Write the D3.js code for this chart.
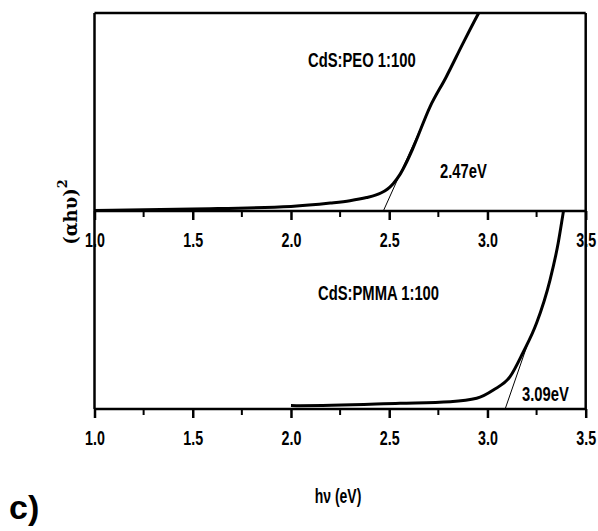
<!DOCTYPE html>
<html>
<head>
<meta charset="utf-8">
<script src="https://cdn.jsdelivr.net/npm/d3@7"></script>
<style>
  body { margin: 0; background: #fff; }
  .tick text, .lbl { font-family: "Liberation Sans", Arial, sans-serif; font-weight: bold; }
</style>
</head>
<body>
<script>
// x ticks (eV)
var xTicks = [1.0, 1.5, 2.0, 2.5, 3.0, 3.5];
var xMinor = [1.25, 1.75, 2.25, 2.75, 3.25];

// CdS:PEO 1:100 -- (alpha h nu)^2, arbitrary units (0-100 = panel height)
var peoE = [1.0, 1.5, 2.0, 2.2, 2.3, 2.385, 2.43, 2.46, 2.49, 2.52, 2.555, 2.59, 2.62, 2.707, 2.79, 2.876, 2.95, 3.0];
var peoY = [0.2, 1.0, 2.3, 4.0, 5.2, 6.8, 8.0, 9.2, 11.0, 13.8, 18.5, 25, 31.5, 52.5, 67.7, 84.8, 99, 108];
var peoFitE = [2.47, 2.72];
var peoFitY = [0, 55];

// CdS:PMMA 1:100
var pmmaE = [2.0, 2.046, 2.555, 2.81, 2.945, 3.03, 3.115, 3.18, 3.25, 3.318, 3.36, 3.385, 3.40];
var pmmaY = [1.8, 1.7, 2.9, 3.7, 5.4, 9.6, 16.3, 28.3, 43.4, 65, 83.8, 98.8, 108];
var pmmaFitE = [3.09, 3.205];
var pmmaFitY = [0, 33];

var W = 598, H = 531;
var left = 94.5, right = 585.7;
var top1 = 13, bot1 = 211, top2 = 211, bot2 = 409;

var svg = d3.select("body").append("svg")
  .attr("width", W).attr("height", H);

var x = d3.scaleLinear().domain([1.0, 3.5]).range([left, right]);
var y1 = d3.scaleLinear().domain([0, 100]).range([bot1, top1]);
var y2 = d3.scaleLinear().domain([0, 100]).range([bot2, top2]);

var defs = svg.append("defs");
defs.append("clipPath").attr("id", "c1").append("rect")
  .attr("x", left).attr("y", top1).attr("width", right - left).attr("height", bot1 - top1);
defs.append("clipPath").attr("id", "c2").append("rect")
  .attr("x", left).attr("y", top2).attr("width", right - left).attr("height", bot2 - top2);

function panel(yScale, clip, E, Y, fE, fY) {
  var line = d3.line()
    .x(function(d) { return x(d[0]); })
    .y(function(d) { return yScale(d[1]); })
    .curve(d3.curveMonotoneX);
  var g = svg.append("g").attr("clip-path", "url(#" + clip + ")");
  g.append("path")
    .datum(E.map(function(e, i) { return [e, Y[i]]; }))
    .attr("d", line)
    .attr("fill", "none")
    .attr("stroke", "#000")
    .attr("stroke-width", 3);
  g.append("path")
    .datum(fE.map(function(e, i) { return [e, fY[i]]; }))
    .attr("d", d3.line().x(function(d) { return x(d[0]); }).y(function(d) { return yScale(d[1]); }))
    .attr("fill", "none")
    .attr("stroke", "#000")
    .attr("stroke-width", 1);
}

panel(y1, "c1", peoE, peoY, peoFitE, peoFitY);
panel(y2, "c2", pmmaE, pmmaY, pmmaFitE, pmmaFitY);

function xAxis(yPos) {
  var g = svg.append("g").attr("transform", "translate(0," + yPos + ")");
  g.call(d3.axisBottom(x).tickValues(xTicks).tickSize(9).tickSizeOuter(0)
    .tickFormat(d3.format(".1f")));
  g.select(".domain").remove();
  g.selectAll(".tick line").attr("stroke-width", 2.5);
  g.selectAll(".tick text")
    .attr("y", 0)
    .attr("dy", 36)
    .attr("font-size", 21)
    .attr("transform", "scale(0.68,1)")
    .attr("fill", "#000");
  g.selectAll(".minor").data(xMinor).enter().append("line")
    .attr("x1", function(d) { return x(d); }).attr("x2", function(d) { return x(d); })
    .attr("y1", 0).attr("y2", 6)
    .attr("stroke", "#000").attr("stroke-width", 2);
}
xAxis(bot1);
xAxis(bot2);

// frame
var fr = svg.append("g").attr("fill", "none").attr("stroke", "#000").attr("stroke-width", 2.5);
fr.append("line").attr("x1", x(1.0)).attr("x2", x(3.5)).attr("y1", top1).attr("y2", top1);
fr.append("line").attr("x1", x(1.0)).attr("x2", x(1.0)).attr("y1", top1).attr("y2", bot2);
fr.append("line").attr("x1", x(3.5)).attr("x2", x(3.5)).attr("y1", top1).attr("y2", bot2);
fr.append("line").attr("x1", x(1.0)).attr("x2", x(3.5)).attr("y1", bot1).attr("y2", bot1);
fr.append("line").attr("x1", x(1.0)).attr("x2", x(3.5)).attr("y1", bot2).attr("y2", bot2);

// condensed bold text (no narrow font available, squeeze horizontally)
function label(tx, ty, size, sx, txt, anchor) {
  svg.append("text").attr("class", "lbl")
    .attr("transform", "translate(" + tx + "," + ty + ") scale(" + sx + ",1)")
    .attr("font-size", size)
    .attr("text-anchor", anchor || "start")
    .text(txt);
}
label(308, 67, 20, 0.74, "CdS:PEO 1:100");
label(440, 178, 20, 0.74, "2.47eV");
label(318, 300, 20, 0.74, "CdS:PMMA 1:100");
label(522, 401, 20, 0.74, "3.09eV");
label(338, 503, 20, 0.7, "h\u03bd (eV)", "middle");

// y title
var yl = svg.append("text")
  .attr("transform", "translate(77,212) rotate(-90)")
  .attr("text-anchor", "middle")
  .attr("font-family", "'DejaVu Serif', serif")
  .attr("font-weight", "bold")
  .attr("font-size", 18);
yl.append("tspan").text("(\u03b1h\u03c5)");
yl.append("tspan").attr("font-size", 13).attr("dy", -10).text("2");

svg.append("text")
  .attr("x", 9).attr("y", 519)
  .attr("font-family", "'Liberation Sans', Arial, sans-serif")
  .attr("font-weight", "bold").attr("font-size", 34)
  .text("c)");
</script>
</body>
</html>
